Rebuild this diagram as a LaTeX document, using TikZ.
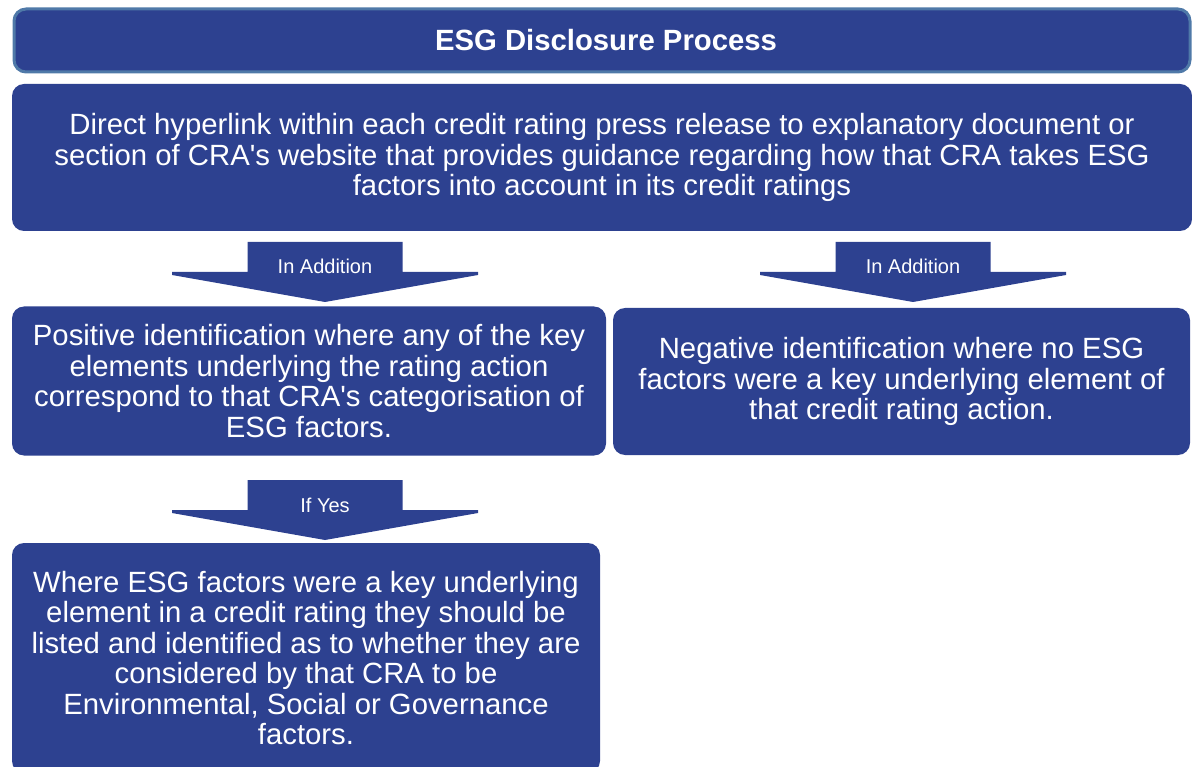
\documentclass[tikz,border=0pt]{standalone}
\usepackage{fontspec}
\setmainfont{Liberation Sans}
\definecolor{esgblue}{RGB}{45,65,144}
\definecolor{esgedge}{RGB}{79,121,168}

\begin{document}
\begin{tikzpicture}[x=1pt, y=-1pt,
  every node/.style={text=white, font=\fontsize{29.3}{30.5}\selectfont},
  box/.style={fill=esgblue, rounded corners=12pt, align=center, inner sep=0pt},
  title/.style={box, draw=esgedge, line width=3pt, font=\fontsize{29.3}{30.5}\selectfont\bfseries},
  flowlabel/.style={anchor=base, font=\fontsize{20}{22}\selectfont},
  pics/downflow/.style={code={
    \fill[esgblue] (-77.5,0) -- (77.5,0) -- (77.5,30) -- (153,30) -- (153,33) -- (0,60)
      -- (-153,33) -- (-153,30) -- (-77.5,30) -- cycle;
    \node[flowlabel] (-label) at (0,32) {#1};}}]
\useasboundingbox (0,0) rectangle (1192,767);
\clip (0,0) rectangle (1192,767);

% header and main steps
\node[title, minimum width=1176pt, minimum height=63pt] (head) at (602,40.5) {\hspace{8pt}ESG Disclosure Process};
\node[box, minimum width=1180pt, minimum height=147pt] (link) at (602,157.5)
  {Direct hyperlink within each credit rating press release to explanatory document or\\
   section of CRA\textquotesingle s website that provides guidance regarding how that CRA takes ESG\\
   factors into account in its credit ratings};
\node[box, minimum width=594pt, minimum height=149pt] (pos) at (309,381)
  {Positive identification where any of the key\\
   elements underlying the rating action\\
   correspond to that CRA\textquotesingle s categorisation of\\
   ESG factors.};
\node[box, minimum width=577pt, minimum height=147pt] (neg) at (901.5,381.5)
  {Negative identification where no ESG\\
   factors were a key underlying element of\\
   that credit rating action.};
\node[box, minimum width=588pt, minimum height=230pt] (list) at (306,658)
  {Where ESG factors were a key underlying\\
   element in a credit rating they should be\\
   listed and identified as to whether they are\\
   considered by that CRA to be\\
   Environmental, Social or Governance\\
   factors.};

% block arrows between the steps
\pic (addpos) at (325,242) {downflow=In Addition};
\pic (addneg) at (913,242) {downflow=In Addition};
\pic (ifyes) at (325,480) {downflow=If Yes};
\end{tikzpicture}
\end{document}
